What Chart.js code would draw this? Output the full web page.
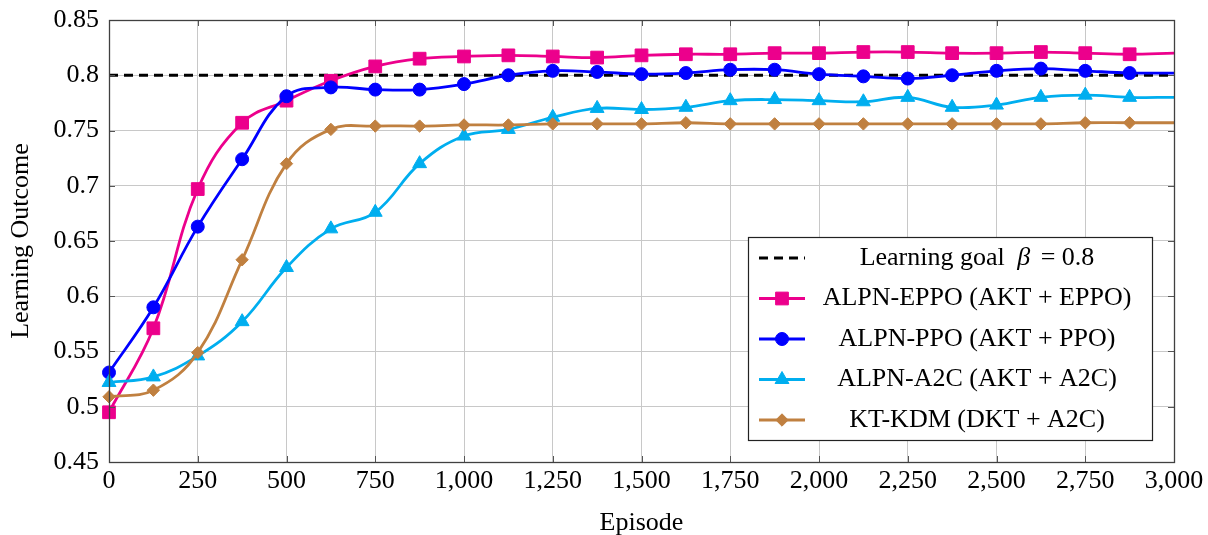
<!DOCTYPE html>
<html>
<head>
<meta charset="utf-8">
<script src="https://cdn.jsdelivr.net/npm/chart.js@4.4.1/dist/chart.umd.min.js"></script>
<style>
  html, body { margin: 0; padding: 0; background: #ffffff; }
  #wrap { width: 1208px; height: 535px; position: relative; }
</style>
</head>
<body>
<div id="wrap"><canvas id="c" width="1208" height="535"></canvas></div>
<script>
// ---- data ----
const episodes = [0,125,250,375,500,625,750,875,1000,1125,1250,1375,1500,1625,1750,1875,2000,2125,2250,2375,2500,2625,2750,2875,3000];
const eppo  = [0.495,0.571,0.697,0.757,0.777,0.795,0.808,0.815,0.817,0.818,0.817,0.816,0.818,0.819,0.819,0.820,0.820,0.821,0.821,0.820,0.820,0.821,0.820,0.819,0.820];
const ppo   = [0.531,0.590,0.663,0.724,0.781,0.789,0.787,0.787,0.792,0.800,0.804,0.803,0.801,0.802,0.805,0.805,0.801,0.799,0.797,0.800,0.804,0.806,0.804,0.802,0.802];
const a2c   = [0.522,0.527,0.546,0.577,0.626,0.661,0.676,0.720,0.745,0.751,0.762,0.770,0.769,0.771,0.777,0.778,0.777,0.776,0.780,0.771,0.773,0.780,0.782,0.780,0.780];
const ktkdm = [0.509,0.515,0.549,0.633,0.720,0.751,0.754,0.754,0.755,0.755,0.756,0.756,0.756,0.757,0.756,0.756,0.756,0.756,0.756,0.756,0.756,0.756,0.757,0.757,0.757];
const goalX = [0, 3000];
const goalY = [0.8, 0.8];
const seriesNames = ["ALPN-EPPO (AKT + EPPO)", "ALPN-PPO (AKT + PPO)", "ALPN-A2C (AKT + A2C)", "KT-KDM (DKT + A2C)"];
const goalLabelParts = ["Learning goal ", "\u03B2", " = 0.8"];
const yTickValues = [0.45,0.5,0.55,0.6,0.65,0.7,0.75,0.8,0.85];
const xTickValues = [0,250,500,750,1000,1250,1500,1750,2000,2250,2500,2750,3000];

const FONT = '"Liberation Serif", "Times New Roman", serif';
const pts = (xs, ys) => xs.map((x, i) => ({x: x, y: ys[i]}));
const lastX = episodes[episodes.length - 1];

function series(label, data, color, style, radius, order) {
  return {
    label: label,
    data: pts(episodes, data),
    borderColor: color,
    backgroundColor: color,
    borderWidth: 2.8,
    tension: 0.4,
    pointStyle: style,
    pointRadius: ctx => (ctx.raw && ctx.raw.x === lastX) ? 0 : radius,
    pointHoverRadius: radius,
    pointBorderWidth: 1,
    pointBackgroundColor: color,
    pointBorderColor: color,
    order: order,
    clip: 12
  };
}

const datasets = [
  {
    label: goalLabelParts.join(''),
    data: pts(goalX, goalY),
    borderColor: '#000000',
    borderWidth: 3.2,
    borderDash: [9, 6],
    pointRadius: 0,
    tension: 0,
    order: 6
  },
  series(seriesNames[0], eppo,  '#EC008C', 'rect',    9,   5),
  series(seriesNames[1], ppo,   '#0000FF', 'circle',  6.5, 4),
  series(seriesNames[2], a2c,   '#00AEEF', 'triangle',8,   3),
  series(seriesNames[3], ktkdm, '#C08040', 'rectRot', 6.2, 2)
];

const framePlugin = {
  id: 'frameAndLegend',
  afterDraw(chart) {
    const ctx = chart.ctx;
    const a = chart.chartArea;
    const xs = chart.scales.x, ys = chart.scales.y;
    ctx.save();
    // tick marks inside the frame
    ctx.strokeStyle = '#555555';
    ctx.lineWidth = 1;
    ctx.beginPath();
    xTickValues.forEach(v => {
      const px = Math.round(xs.getPixelForValue(v)) + 0.5;
      ctx.moveTo(px, a.bottom); ctx.lineTo(px, a.bottom - 6);
      ctx.moveTo(px, a.top); ctx.lineTo(px, a.top + 6);
    });
    yTickValues.forEach(v => {
      const py = Math.round(ys.getPixelForValue(v)) + 0.5;
      ctx.moveTo(a.left, py); ctx.lineTo(a.left + 6, py);
      ctx.moveTo(a.right, py); ctx.lineTo(a.right - 6, py);
    });
    ctx.stroke();
    // frame
    ctx.strokeStyle = '#404040';
    ctx.lineWidth = 1.3;
    ctx.strokeRect(Math.round(a.left) + 0.5, Math.round(a.top) + 0.5, Math.round(a.right - a.left), Math.round(a.bottom - a.top));

    // legend box
    const bx = 748, by = 237, bw = 404, bh = 203;
    ctx.fillStyle = '#ffffff';
    ctx.fillRect(bx, by, bw, bh);
    ctx.strokeStyle = '#222222';
    ctx.lineWidth = 1.2;
    ctx.strokeRect(bx + 0.5, by + 0.5, bw, bh);

    const rowY = [258, 298.5, 339, 379.5, 420];
    const lx0 = 759, lx1 = 805, textCenter = 977;
    ctx.font = '26px ' + FONT;
    ctx.textBaseline = 'middle';
    ctx.fillStyle = '#000000';

    chart.data.datasets.forEach((ds, i) => {
      const y = rowY[i];
      ctx.save();
      ctx.strokeStyle = ds.borderColor;
      ctx.lineWidth = ds.borderWidth;
      if (ds.borderDash) ctx.setLineDash(ds.borderDash);
      ctx.beginPath();
      ctx.moveTo(lx0, y); ctx.lineTo(lx1, y);
      ctx.stroke();
      ctx.restore();
      if (i > 0) {
        ctx.save();
        ctx.fillStyle = ds.backgroundColor;
        ctx.strokeStyle = ds.borderColor;
        ctx.lineWidth = 1;
        Chart.helpers.drawPoint(ctx, {pointStyle: ds.pointStyle, radius: ds.pointHoverRadius, rotation: 0, borderWidth: 1}, (lx0 + lx1) / 2, y);
        ctx.restore();
      }
      ctx.fillStyle = '#000000';
      if (i === 0) {
        const f1 = '26px ' + FONT, f2 = 'italic 26px ' + FONT;
        ctx.font = f1; const w0 = ctx.measureText(goalLabelParts[0]).width + 6;
        ctx.font = f2; const w1 = ctx.measureText(goalLabelParts[1]).width + 4;
        ctx.font = f1; const w2 = ctx.measureText(goalLabelParts[2]).width;
        let x = textCenter - (w0 + w1 + w2) / 2;
        ctx.textAlign = 'left';
        ctx.font = f1; ctx.fillText(goalLabelParts[0], x, y); x += w0;
        ctx.font = f2; ctx.fillText(goalLabelParts[1], x, y); x += w1;
        ctx.font = f1; ctx.fillText(goalLabelParts[2], x, y);
      } else {
        ctx.font = '26px ' + FONT;
        ctx.textAlign = 'center';
        ctx.fillText(ds.label, textCenter, y);
      }
    });
    ctx.restore();
  }
};

new Chart(document.getElementById('c'), {
  type: 'line',
  data: { datasets: datasets },
  options: {
    responsive: false,
    animation: false,
    events: [],
    layout: { padding: { left: 0, right: 34, top: 20, bottom: 0 } },
    plugins: {
      legend: { display: false },
      tooltip: { enabled: false }
    },
    scales: {
      x: {
        type: 'linear',
        min: 0, max: 3000,
        afterBuildTicks: s => { s.ticks = xTickValues.map(v => ({value: v})); },
        afterFit: s => { s.height = 73; s.paddingLeft = 0; s.paddingRight = 0; },
        grid: { color: '#c8c8c8', lineWidth: 1, drawTicks: false },
        border: { display: false },
        ticks: {
          color: '#000000',
          font: { family: FONT, size: 26 },
          padding: 4,
          maxRotation: 0,
          autoSkip: false,
          callback: v => Number(v).toLocaleString('en-US')
        },
        title: {
          display: true, text: 'Episode', color: '#000000',
          font: { family: FONT, size: 26 },
          padding: { top: 0, bottom: -4 }
        }
      },
      y: {
        min: 0.45, max: 0.85,
        afterBuildTicks: s => { s.ticks = yTickValues.map(v => ({value: v})); },
        afterFit: s => { s.width = 109; s.paddingTop = 0; s.paddingBottom = 0; },
        grid: { color: '#c8c8c8', lineWidth: 1, drawTicks: false },
        border: { display: false },
        ticks: {
          color: '#000000',
          font: { family: FONT, size: 26 },
          padding: 10,
          autoSkip: false,
          callback: v => String(Number(v.toFixed(2)))
        },
        title: {
          display: true, text: 'Learning Outcome', color: '#000000',
          font: { family: FONT, size: 26 },
          padding: { top: 6, bottom: 4 }
        }
      }
    }
  },
  plugins: [framePlugin]
});
</script>
</body>
</html>
